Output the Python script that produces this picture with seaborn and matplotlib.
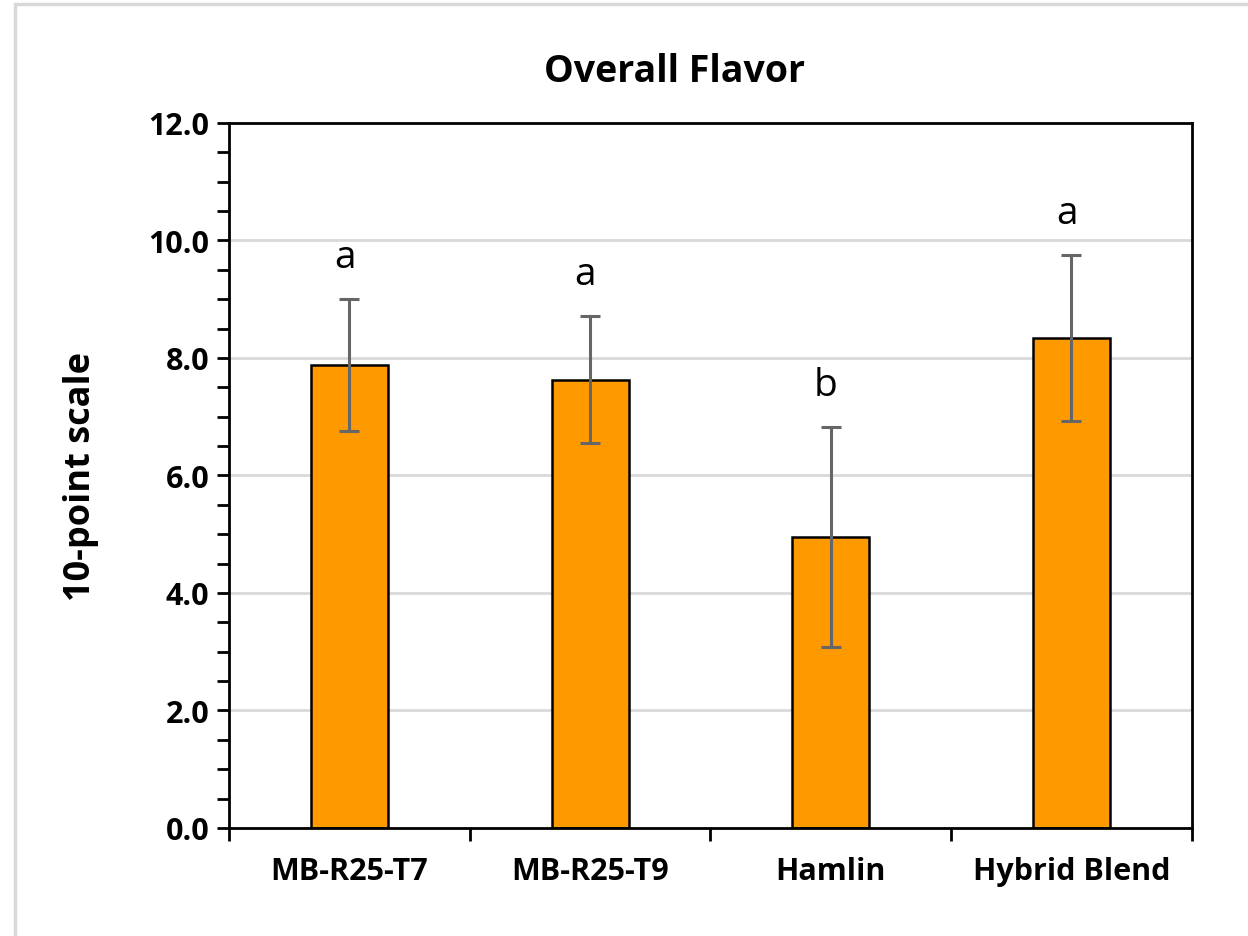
import numpy as np
import pandas as pd
import matplotlib
matplotlib.use("Agg")
import matplotlib.pyplot as plt
import seaborn as sns
from matplotlib.ticker import MultipleLocator, FixedLocator
from matplotlib.lines import Line2D

# data
samples = ["MB-R25-T7", "MB-R25-T9", "Hamlin", "Hybrid Blend"]
means = [7.88, 7.63, 4.95, 8.34]
sds = [1.12, 1.08, 1.87, 1.41]
letters = ["a", "a", "b", "a"]

df = pd.DataFrame({"Sample": samples, "Score": means})

sns.set_theme(style="white")
plt.rcParams["font.family"] = ["Open Sans", "DejaVu Sans"]
plt.rcParams["text.color"] = "black"
plt.rcParams["xtick.color"] = "black"
plt.rcParams["ytick.color"] = "black"
plt.rcParams["axes.labelcolor"] = "black"

fig = plt.figure(figsize=(12.48, 9.37), dpi=100)
ax = fig.add_axes([0.1835, 0.1153, 0.7715, 0.7524])

# horizontal grid behind bars
ax.set_axisbelow(True)
ax.yaxis.grid(True, color="#d9d9d9", linewidth=2)

sns.barplot(data=df, x="Sample", y="Score", color="#ff9900", width=0.32,
            edgecolor="black", linewidth=1.8, saturation=1, errorbar=None, ax=ax)

x = np.arange(len(samples))
ax.errorbar(x, means, yerr=sds, fmt="none", ecolor="#666666",
            elinewidth=2.2, capsize=7, capthick=2.2, zorder=5)

for xi, m, s, lab in zip(x, means, sds, letters):
    ax.text(xi - 0.02, m + s + 0.4, lab, ha="center", va="bottom", fontsize=28, color="black")

ax.set_ylim(0, 12)
ax.set_xlim(-0.5, 3.5)
ax.yaxis.set_major_locator(MultipleLocator(2))
ax.yaxis.set_minor_locator(MultipleLocator(0.5))
ax.yaxis.set_major_formatter(matplotlib.ticker.FormatStrFormatter("%.1f"))
ax.xaxis.set_minor_locator(FixedLocator([-0.5, 0.5, 1.5, 2.5, 3.5]))

ax.tick_params(axis="y", which="both", direction="out", length=9, width=2,
               color="black", left=True, labelsize=22, pad=5)
ax.tick_params(axis="x", which="major", length=0, labelsize=22, pad=20)
ax.tick_params(axis="x", which="minor", direction="out", length=9, width=2,
               color="black", bottom=True)
for lab in ax.get_xticklabels() + ax.get_yticklabels():
    lab.set_fontweight("bold")

for sp in ax.spines.values():
    sp.set_visible(True)
    sp.set_color("black")
    sp.set_linewidth(2)

ax.set_xlabel("")
ax.set_ylabel("10-point scale", fontsize=26, fontweight="bold", labelpad=36)
ax.set_title("Overall Flavor", fontsize=27, fontweight="bold", pad=30, x=0.463)

# light grey frame edges (top and left) of the cropped chart area
fig.lines.append(Line2D([0.012, 0.012], [0, 0.9947], transform=fig.transFigure,
                        color="#d9d9d9", linewidth=2.5))
fig.lines.append(Line2D([0.012, 1], [0.9947, 0.9947], transform=fig.transFigure,
                        color="#d9d9d9", linewidth=2.5))

fig.savefig("out.png", dpi=100)
